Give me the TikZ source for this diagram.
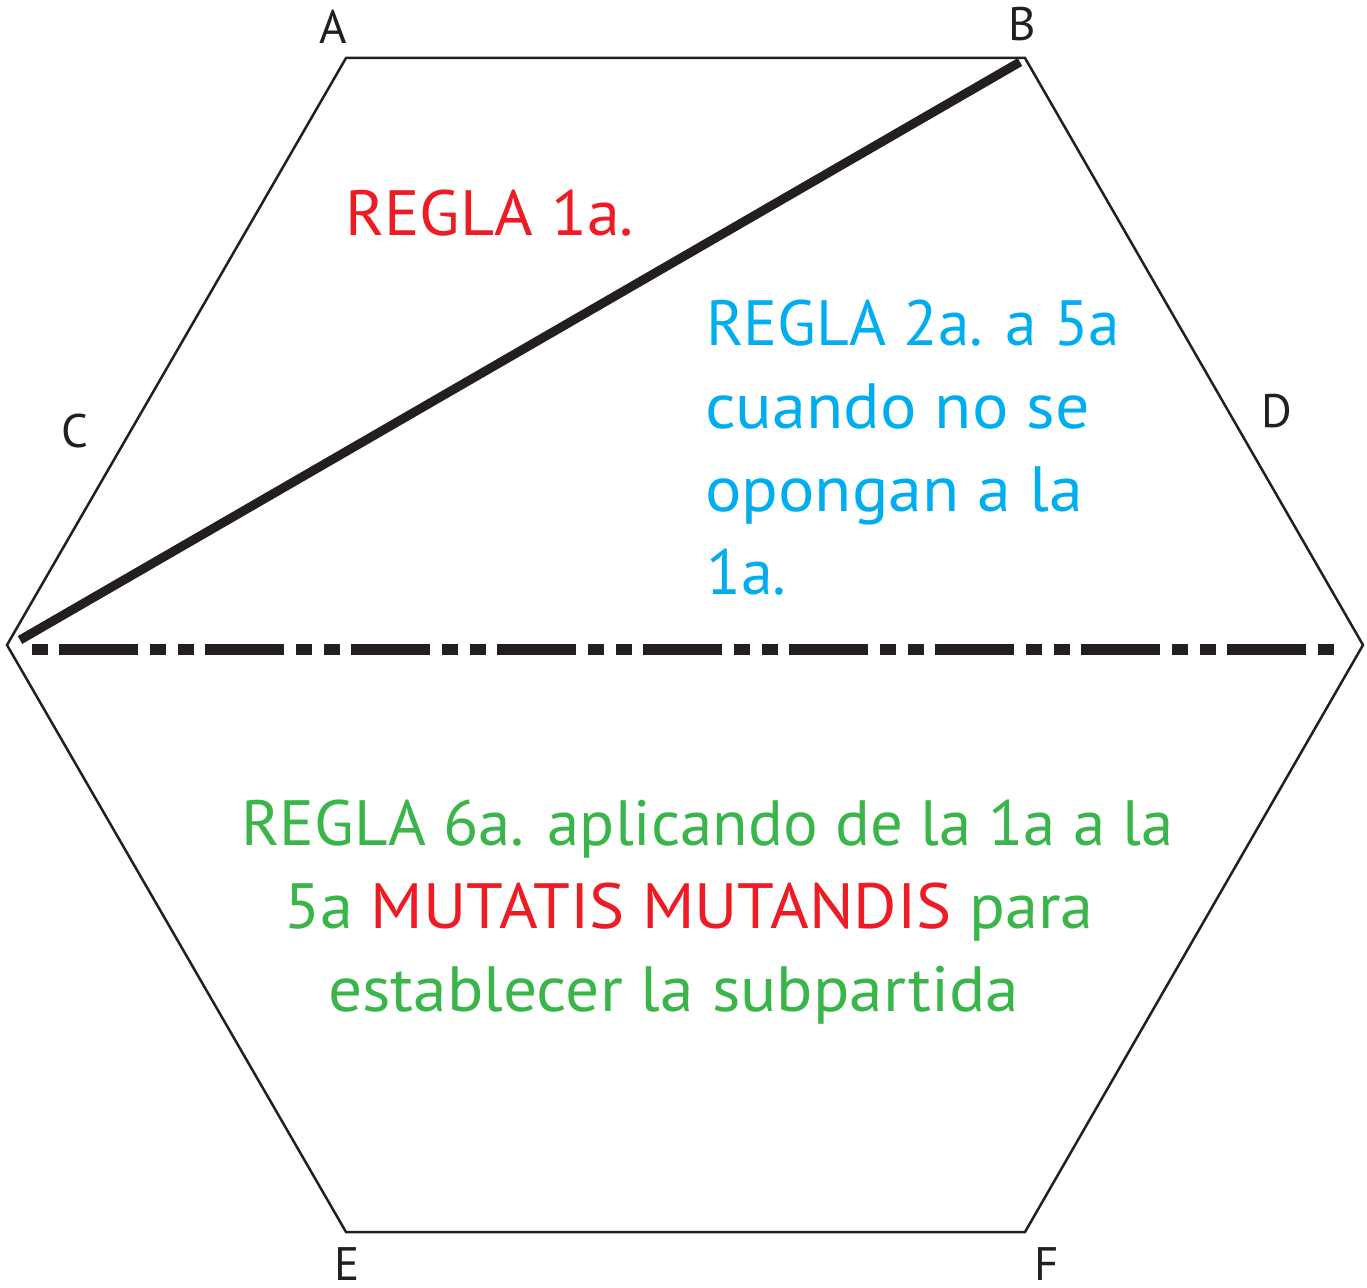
\documentclass[tikz,border=0pt]{standalone}
\usepackage{fontspec}
\setmainfont{PT Sans}
\definecolor{ink}{RGB}{35,31,32}
\definecolor{rred}{RGB}{237,28,36}
\definecolor{rcyan}{RGB}{0,174,239}
\definecolor{rgreen}{RGB}{57,181,74}
\tikzset{
  vlabel/.style={inner sep=0pt, anchor=base west, text=ink, font=\fontsize{47}{56}\selectfont},
  rule/.style={inner sep=0pt, anchor=base west, font=\fontsize{64}{76}\selectfont},
  hexedge/.style={draw=ink, line width=2.5pt, line join=miter},
  cut/.style={draw=ink, line width=9pt},
  split/.style={draw=ink, line width=11pt, dash pattern=on 16pt off 11pt on 79pt off 12pt on 16pt off 12pt}
}
\begin{document}
\begin{tikzpicture}[x=1pt,y=-1pt]
\useasboundingbox (0,0) rectangle (1367,1287);
% hexagon vertices
\coordinate (vA) at (346,58);
\coordinate (vB) at (1025,58);
\coordinate (vD) at (1363,645);
\coordinate (vF) at (1025,1232);
\coordinate (vE) at (346,1232);
\coordinate (vC) at (7,645);
\draw[hexedge] (vA) -- (vB) -- (vD) -- (vF) -- (vE) -- (vC) -- cycle;
% thick diagonal
\coordinate (cutB) at (1020,62);
\coordinate (cutC) at (20,640);
\draw[cut] (cutC) -- (cutB);
% dash-dot split line
\coordinate (splitL) at (32,649);
\coordinate (splitR) at (1335,649);
\draw[split] (splitL) -- (splitR);
% vertex labels
\node[vlabel] (lA) at (319,44) {A};
\node[vlabel] (lB) at (1008,41) {B};
\node[vlabel] (lC) at (61,447) {C};
\node[vlabel] (lD) at (1261,427) {D};
\node[vlabel] (lE) at (334,1280) {E};
\node[vlabel] (lF) at (1034,1280) {F};
% rules
\node[rule, text=rred] (r1) at (345,235) {\scalebox{1.032}[1]{REGLA 1a.}};
\node[rule, text=rcyan] (r2a) at (706,345) {\scalebox{0.99}[1]{REGLA 2a. a 5a}};
\node[rule, text=rcyan] (r2b) at (705,428) {\scalebox{1.064}[1]{cuando no se}};
\node[rule, text=rcyan] (r2c) at (705,511) {\scalebox{1.063}[1]{opongan a la}};
\node[rule, text=rcyan] (r2d) at (706,594) {1a.};
\node[rule, text=rgreen] (r6a) at (241,845) {\scalebox{1.013}[1]{REGLA 6a. aplicando de la 1a a la}};
\node[rule, text=rgreen] (r6b) at (284,928) {\scalebox{1.036}[1]{5a \textcolor{rred}{MUTATIS MUTANDIS} para}};
\node[rule, text=rgreen] (r6c) at (328,1011) {\scalebox{1.054}[1]{establecer la subpartida}};
\end{tikzpicture}
\end{document}
